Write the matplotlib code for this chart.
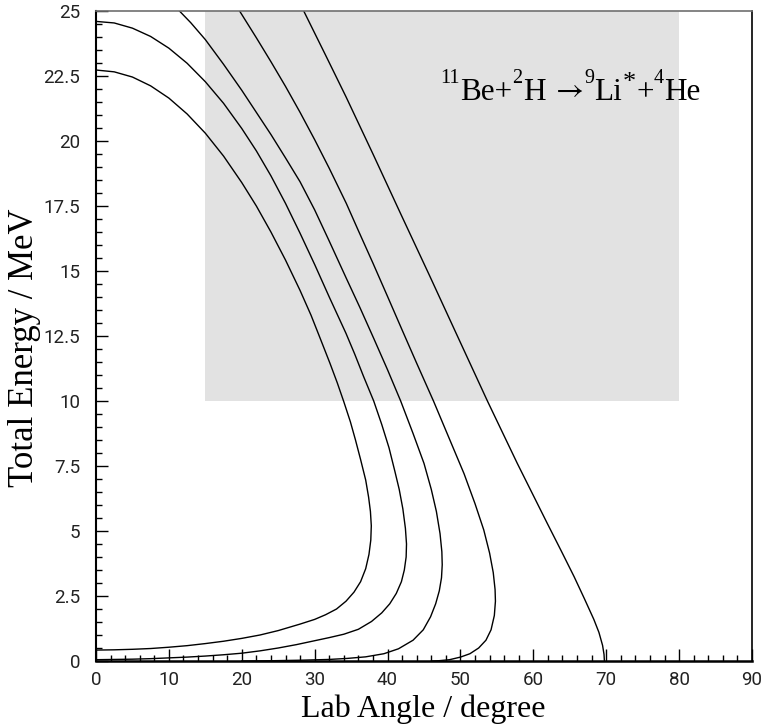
import matplotlib
matplotlib.use("Agg")
import matplotlib.pyplot as plt
from matplotlib.ticker import MultipleLocator, FixedLocator
from matplotlib.patches import Rectangle

# ---- data ----
angle_a = [0, 2.5, 5, 7.5, 10, 12.5, 15, 17.5, 20, 22, 24, 26, 28, 29.5, 30.7, 32.1, 33.1, 34.0,
           34.9, 35.6, 36.3, 37.0, 37.4, 37.65, 37.77, 37.7, 37.45, 37.0, 36.3, 35.4, 34.3, 33.0,
           31.5, 30, 28, 25, 22.5, 20, 17.5, 15, 12.5, 10, 7.5, 5, 2.5, 0]
energy_a = [22.73, 22.66, 22.46, 22.12, 21.65, 21.04, 20.3, 19.42, 18.4, 17.5, 16.5, 15.42, 14.25,
            13.3, 12.45, 11.45, 10.7, 9.97, 9.2, 8.5, 7.75, 6.96, 6.3, 5.75, 5.2, 4.65, 4.1, 3.55,
            3.05, 2.65, 2.3, 2.0, 1.78, 1.6, 1.42, 1.17, 1.0, 0.87, 0.76, 0.67, 0.59, 0.53, 0.48,
            0.45, 0.43, 0.42]

angle_b = [0, 2.5, 5, 7.5, 10, 12.5, 15, 17.5, 20, 22, 24, 26, 28, 30, 32, 34.3, 35.5, 36.7, 38.1,
           39.2, 40.2, 41.0, 41.6, 42.1, 42.45, 42.6, 42.55, 42.3, 41.9, 41.2, 40.3, 39.2, 37.8,
           36.0, 34.0, 32, 30, 27.5, 25, 22.5, 20, 17.5, 15, 12.5, 10, 7.5, 5, 2.5, 0]
energy_b = [24.6, 24.54, 24.34, 24.02, 23.57, 22.99, 22.28, 21.45, 20.48, 19.62, 18.66, 17.6,
            16.45, 15.25, 14.0, 12.6, 11.8, 10.95, 10.0, 9.1, 8.2, 7.3, 6.6, 5.85, 5.1, 4.5, 4.0,
            3.5, 3.05, 2.6, 2.2, 1.85, 1.52, 1.22, 1.03, 0.9, 0.78, 0.63, 0.5, 0.39, 0.3, 0.24,
            0.19, 0.15, 0.12, 0.09, 0.07, 0.06, 0.05]

angle_c = [11.45, 13, 15, 17.5, 20, 22, 24, 26, 28, 30, 32, 34.34, 36.2, 38.1, 40, 41.8, 43.5,
           45.0, 46.0, 46.7, 47.2, 47.45, 47.5, 47.4, 47.1, 46.6, 45.9, 44.9, 43.5, 41.5, 39.5,
           37, 34.5, 32, 28, 24, 20]
energy_c = [25.0, 24.55, 23.9, 22.95, 21.95, 21.1, 20.25, 19.35, 18.43, 17.35, 16.15, 14.72,
            13.6, 12.41, 11.2, 10.0, 8.75, 7.6, 6.6, 5.75, 4.9, 4.2, 3.7, 3.2, 2.7, 2.2, 1.7, 1.2,
            0.8, 0.47, 0.28, 0.16, 0.1, 0.06, 0.03, 0.01, 0.0]

angle_d = [19.7, 22, 24, 26, 28, 30, 32, 34.34, 36, 38, 40, 42, 44, 46.3, 48.4, 50.5, 52.0, 53.2,
           54.0, 54.5, 54.75, 54.8, 54.65, 54.2, 53.5, 52.5, 51.3, 50, 48.5, 47, 46]
energy_d = [25.0, 23.97, 23.05, 22.1, 21.1, 20.05, 18.95, 17.6, 16.55, 15.3, 14.02, 12.73, 11.45,
            10.0, 8.6, 7.2, 6.05, 5.04, 4.15, 3.4, 2.75, 2.3, 1.75, 1.2, 0.8, 0.5, 0.28, 0.15,
            0.05, 0.01, 0.0]

angle_e = [28.5, 31.5, 34.3, 38, 41.8, 45.8, 49.5, 53.7, 57.8, 61.9, 63.8, 65.6, 67.0, 68.3,
           69.0, 69.5, 69.7, 69.75]
energy_e = [25.0, 23.3, 21.7, 19.5, 17.2, 14.8, 12.55, 10.0, 7.6, 5.3, 4.25, 3.24, 2.4, 1.6, 1.1,
            0.6, 0.25, 0.0]

curves = [(angle_a, energy_a), (angle_b, energy_b), (angle_c, energy_c),
          (angle_d, energy_d), (angle_e, energy_e)]

shade_angle = [15, 80]
shade_energy = [10, 25]

x_ticks = [0, 10, 20, 30, 40, 50, 60, 70, 80, 90]
y_ticks = [0, 2.5, 5, 7.5, 10, 12.5, 15, 17.5, 20, 22.5, 25]
y_tick_labels = ["0", "2.5", "5", "7.5", "10", "12.5", "15", "17.5", "20", "22.5", "25"]

# reaction label pieces: (text, role)
reaction_pieces = [("11", "sup"), ("Be+", "main"), ("2", "sup"), ("H", "main"),
                   (r"$\rightarrow$", "arrow"), ("9", "sup"), ("Li", "main"), ("*", "star"),
                   ("+", "main"), ("4", "sup"), ("He", "main")]
xlabel_text = "Lab Angle / degree"
ylabel_text = "Total Energy / MeV"

# ---- figure ----
plt.rcParams["mathtext.fontset"] = "stix"
W, H = 765, 728
fig = plt.figure(figsize=(W / 100, H / 100), dpi=100)
ax = fig.add_axes([96 / W, 1 - 661 / H, (752 - 96) / W, (661 - 11) / H])
ax.set_xlim(0, 90)
ax.set_ylim(0, 25)

ax.add_patch(Rectangle((shade_angle[0], shade_energy[0]),
                       shade_angle[1] - shade_angle[0], shade_energy[1] - shade_energy[0],
                       facecolor="#e2e2e2", edgecolor="none", zorder=0))

for xs, ys in curves:
    ax.plot(xs, ys, color="black", lw=1.0, zorder=2, solid_joinstyle="round")

ax.xaxis.set_major_locator(FixedLocator(x_ticks))
ax.xaxis.set_minor_locator(MultipleLocator(2))
ax.yaxis.set_major_locator(FixedLocator(y_ticks))
ax.yaxis.set_minor_locator(MultipleLocator(0.5))
ax.set_yticklabels(y_tick_labels)

ax.tick_params(which="both", direction="in", top=False, right=False, width=1.0, color="black")
ax.tick_params(which="major", length=8.6)
ax.tick_params(which="minor", length=4.3)
ax.tick_params(axis="x", which="major", pad=7)
ax.tick_params(axis="y", which="major", pad=11.5)

for lab in ax.get_xticklabels() + ax.get_yticklabels():
    lab.set_fontfamily("Roboto")
    lab.set_fontweight("normal")
    lab.set_fontsize(13.5)
    lab.set_color("#222222")

ax.spines["left"].set_linewidth(1.5)
ax.spines["bottom"].set_linewidth(1.8)
ax.spines["right"].set_linewidth(1.2)
ax.spines["top"].set_linewidth(1.2)
ax.spines["top"].set_color("#707070")

# reaction label laid out piece by piece, each piece after the previous one
renderer = fig.canvas.get_renderer()
role_style = {"main": (22.5, 100), "sup": (14.5, 83), "star": (19, 89), "arrow": (22, 98)}
gap_before = {4: 6}
cursor = 440.0
for i, (txt, role) in enumerate(reaction_pieces):
    size, base = role_style[role]
    cursor += gap_before.get(i, 0)
    t = fig.text(cursor / W, 1 - base / H, txt, fontsize=size,
                 family=["Liberation Serif", "DejaVu Serif"], ha="left", va="baseline")
    bb = t.get_window_extent(renderer)
    cursor = bb.x1 + 0.3

fig.text(423 / W, 1 - 717 / H, xlabel_text, fontsize=23, family="Liberation Serif",
         ha="center", va="baseline")
fig.text(33 / W, 1 - 348 / H, ylabel_text, fontsize=25, family="Liberation Serif",
         ha="center", va="baseline", rotation=90, rotation_mode="anchor")

fig.savefig("out.png", dpi=100)
